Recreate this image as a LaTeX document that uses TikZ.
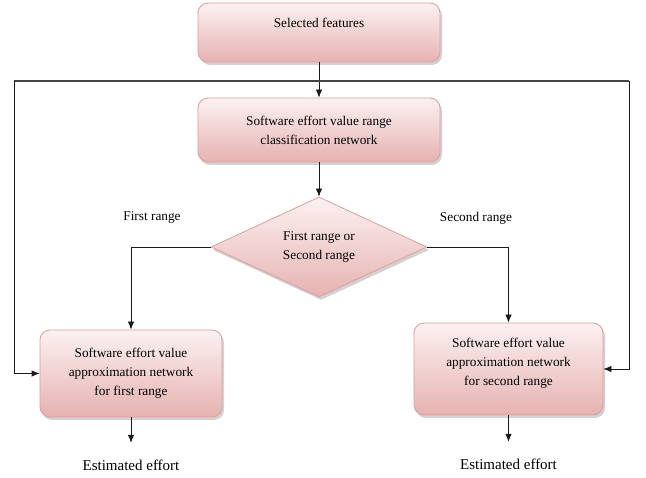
\documentclass[tikz,border=0pt]{standalone}
\usepackage{fontspec}
\setmainfont{Liberation Serif}
\usetikzlibrary{shapes.geometric,shadows,arrows.meta}
\definecolor{boxtop}{HTML}{FCF1F1}
\definecolor{boxbot}{HTML}{E6B2B1}
\definecolor{boxline}{HTML}{D9A09F}
\definecolor{lineclr}{HTML}{1A1A1A}
\definecolor{topline}{HTML}{444444}
\begin{document}
\begin{tikzpicture}[x=1pt,y=-1pt,
  font=\fontsize{13.3}{19}\selectfont,
  pinkbox/.style={rectangle, rounded corners=10pt, draw=boxline, line width=0.8pt,
    top color=boxtop, bottom color=boxbot, align=center, inner sep=0pt,
    drop shadow={shadow xshift=2pt, shadow yshift=-3pt, opacity=0.35, fill=gray}},
  pinkdia/.style={diamond, draw=boxline, line width=0.8pt, aspect=2.16,
    top color=boxtop, bottom color=boxbot, align=center, inner sep=0pt,
    drop shadow={shadow xshift=2pt, shadow yshift=-3pt, opacity=0.35, fill=gray}},
  arr/.style={draw=lineclr, line width=0.8pt, -{Latex[length=8pt,width=6.5pt]}},
  plain/.style={draw=topline, line width=1.2pt},
  lbl/.style={inner sep=0pt, align=center},
  est/.style={inner sep=0pt, minimum height=44pt, font=\fontsize{15}{17}\selectfont}
]
\useasboundingbox (0,0) rectangle (646,478);
\fill[white] (0,0) rectangle (646,478);

\node[pinkbox, minimum width=242pt, minimum height=59pt, text depth=20pt] (sel) at (319,32.5) {Selected features};
\node[pinkbox, minimum width=242pt, minimum height=64pt] (cls) at (319,130) {Software effort value range\\classification network};
\node[pinkdia, minimum width=216pt, minimum height=100pt] (dia) at (319,247) {First range or\\Second range};
\node[pinkbox, minimum width=182pt, minimum height=87pt] (fl) at (131,373.5) {Software effort value\\approximation network\\for first range};
\node[pinkbox, minimum width=189pt, minimum height=92pt, text depth=15pt] (fr) at (508.5,369) {Software effort value\\approximation network\\for second range};

\node[lbl] (l1) at (152,218) {First range};
\node[lbl] (l2) at (476,218) {Second range};
\node[est] (e1) at (131,465) {Estimated effort};
\node[est] (e2) at (508.5,464) {Estimated effort};

\coordinate (j) at (319,81);
\coordinate (cl) at (14,81);
\coordinate (cr) at (629,81);

\draw[arr] (sel.south) -- (cls.north);
\draw[plain] (cl) -- (cr);
\draw[arr] (cl) |- (fl.west);
\draw[arr] (cr) |- (fr.east);
\draw[arr] (cls.south) -- (dia.north);
\draw[arr] (dia.west) -| (fl.north);
\draw[arr] (dia.east) -| (fr.north);
\draw[arr] (fl.south) -- (e1.north);
\draw[arr] (fr.south) -- (e2.north);
\end{tikzpicture}
\end{document}
